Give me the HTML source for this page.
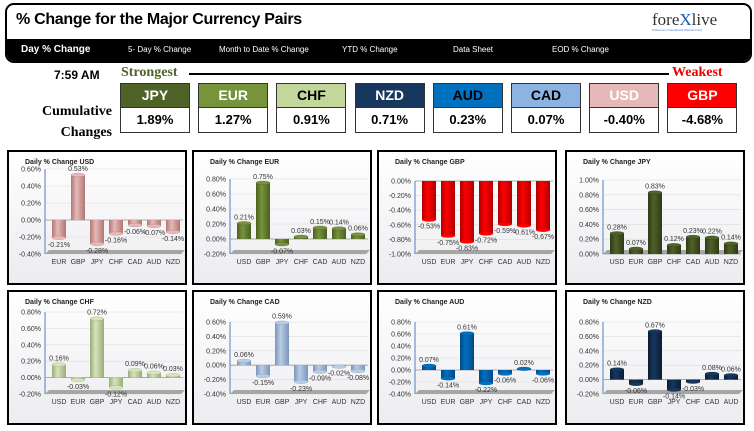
<!DOCTYPE html>
<html><head><meta charset="utf-8"><style>
body{margin:0;width:754px;height:431px;background:#fff;font-family:"Liberation Sans",sans-serif;overflow:hidden;position:relative}
.abs{position:absolute}
#hdr{left:5px;top:3px;width:743px;height:56px;border:2px solid #000;border-radius:9px;background:#fff;overflow:hidden}
#nav{left:0;top:34px;width:743px;height:22px;background:#000}
.nav{position:absolute;top:6px;color:#fff;font-size:8px;font-family:"Liberation Sans Narrow","Liberation Sans",sans-serif}
.box{position:absolute;width:68px;border:1px solid #333}
.bn{height:23px;line-height:23px;text-align:center;font-weight:bold;font-size:14px;font-family:"Liberation Sans Narrow","Liberation Sans",sans-serif;border-bottom:1px solid #333}
.bv{height:24px;line-height:24px;text-align:center;font-weight:bold;font-size:13px;background:#fff;font-family:"Liberation Sans Narrow","Liberation Sans",sans-serif}
</style></head><body>
<div id="hdr" class="abs">
 <div class="abs" style="left:9px;top:6px;font-weight:bold;font-size:16px;font-family:'Liberation Sans Narrow','Liberation Sans',sans-serif;letter-spacing:-0.3px">% Change for the Major Currency Pairs</div>
 <div class="abs" style="left:645px;top:5px;font-family:'Liberation Serif',serif;font-size:17px;color:#333">fore<span style="color:#1a5fb4">X</span>live<div style="font-size:3px;color:#36c;margin-top:-2px">Tomorrow's Conventional Wisdom Today</div></div>
 <div id="nav" class="abs">
  <span class="nav" style="left:14px;top:5px;font-size:10px;font-weight:bold">Day % Change</span>
  <span class="nav" style="left:121px">5- Day % Change</span>
  <span class="nav" style="left:212px">Month to Date % Change</span>
  <span class="nav" style="left:335px">YTD % Change</span>
  <span class="nav" style="left:446px">Data Sheet</span>
  <span class="nav" style="left:545px">EOD % Change</span>
 </div>
</div>
<div class="abs" style="left:54px;top:68px;font-weight:bold;font-size:12px;font-family:'Liberation Sans Narrow','Liberation Sans',sans-serif">7:59 AM</div>
<div class="abs" style="left:121px;top:65px;font-weight:bold;font-size:14px;color:#4f6228;font-family:'Liberation Serif',serif">Strongest</div>
<div class="abs" style="left:189px;top:73px;width:480px;height:2px;background:#000"></div>
<div class="abs" style="left:672px;top:65px;font-weight:bold;font-size:14px;color:#e00;font-family:'Liberation Serif',serif">Weakest</div>
<div class="abs" style="left:38px;top:101px;font-weight:bold;font-size:14px;line-height:21px;text-align:right;width:74px;font-family:'Liberation Serif',serif">Cumulative Changes</div>
<div id="boxes"></div>
<div id="panels"></div>
<script>
const rankNames=["JPY","EUR","CHF","NZD","AUD","CAD","USD","GBP"];
const rankValues=[1.89,1.27,0.91,0.71,0.23,0.07,-0.40,-4.68];
const rankBg=["#4f6228","#77933c","#c3d69b","#17375e","#0070c0","#8db3e2","#e6b9b8","#ff0000"];
const rankFg=["#fff","#fff","#000","#fff","#000","#000","#fff","#fff"];
const bx=document.getElementById('boxes');
rankNames.forEach((n,i)=>{
 const d=document.createElement('div');d.className='box';
 d.style.left=(120+i*78.2)+'px';d.style.top='83px';
 
 
 d.innerHTML='<div class="bn" style="background:'+rankBg[i]+';color:'+rankFg[i]+'">'+n+'</div><div class="bv">'+rankValues[i].toFixed(2)+'%</div>';
 bx.appendChild(d);
});
const panelTitles=["USD","EUR","GBP","JPY","CHF","CAD","AUD","NZD"];
const panelCats=[["EUR","GBP","JPY","CHF","CAD","AUD","NZD"],["USD","GBP","JPY","CHF","CAD","AUD","NZD"],["USD","EUR","JPY","CHF","CAD","AUD","NZD"],["USD","EUR","GBP","CHF","CAD","AUD","NZD"],["USD","EUR","GBP","JPY","CAD","AUD","NZD"],["USD","EUR","GBP","JPY","CHF","AUD","NZD"],["USD","EUR","GBP","JPY","CHF","CAD","NZD"],["USD","EUR","GBP","JPY","CHF","CAD","AUD"]];
const usdVals=[-0.21,0.53,-0.28,-0.16,-0.06,-0.07,-0.14];
const eurVals=[0.21,0.75,-0.07,0.03,0.15,0.14,0.06];
const gbpVals=[-0.53,-0.75,-0.83,-0.72,-0.59,-0.61,-0.67];
const jpyVals=[0.28,0.07,0.83,0.12,0.23,0.22,0.14];
const chfVals=[0.16,-0.03,0.72,-0.12,0.09,0.06,0.03];
const cadVals=[0.06,-0.15,0.59,-0.23,-0.09,-0.02,-0.08];
const audVals=[0.07,-0.14,0.61,-0.22,-0.06,0.02,-0.06];
const nzdVals=[0.14,-0.06,0.67,-0.14,-0.03,0.08,0.06];
const panelVals=[usdVals,eurVals,gbpVals,jpyVals,chfVals,cadVals,audVals,nzdVals];
const panelMax=[0.6,0.8,0,1.0,0.8,0.6,0.8,0.8];
const panelMin=[-0.4,-0.2,-1.0,0,-0.2,-0.4,-0.4,-0.2];
const panelColor=["#e6b9b8","#77933c","#ff0000","#4f6228","#d7e4bd","#b9cde5","#0070c0","#17375e"];
const panelDark=["#b07774","#4a6020","#b00000","#2e3a15","#9aac78","#7a96bb","#004a85","#0a1c33"];
const topOff=[19,29,31,30,22,32,32,32];
const px=[7,192,377,565],py=[150,290],pw=180,ph=135;
let html='<svg xmlns="http://www.w3.org/2000/svg" width="754" height="431" style="position:absolute;left:0;top:0"><defs><linearGradient id="bg" x1="0" y1="0" x2="0" y2="1"><stop offset="0" stop-color="#fff"/><stop offset="1" stop-color="#ececf0"/></linearGradient>';
panelColor.forEach((c,i)=>{html+='<linearGradient id="g'+i+'" x1="0" x2="1"><stop offset="0" stop-color="'+panelDark[i]+'"/><stop offset="0.4" stop-color="'+c+'"/><stop offset="1" stop-color="'+panelDark[i]+'"/></linearGradient>';});
html+='</defs>';
for(let p=0;p<8;p++){
 const X=px[p%4],T=py[Math.floor(p/4)];
 const top=T+topOff[p],bot=T+104;
 const mx=panelMax[p],mn=panelMin[p];
 const y=v=>top+(mx-v)/(mx-mn)*(bot-top);
 const ax=X+38;
 const cx=i=>X+52+i*19;
 html+='<g>';
 html+='<rect x="'+(X+1)+'" y="'+(T+1)+'" width="'+(pw-2)+'" height="'+(ph-2)+'" fill="url(#bg)" stroke="#000" stroke-width="2"/>';
 html+='<text x="'+(X+18)+'" y="'+(T+14)+'" font-size="7" font-weight="bold" fill="#222">Daily % Change '+panelTitles[p]+'</text>';
 const nt=Math.round((mx-mn)/0.2);
 for(let k=0;k<=nt;k++){const v=mx-k*0.2;const yy=y(v);
  html+='<line x1="'+ax+'" x2="'+(X+176)+'" y1="'+yy+'" y2="'+yy+'" stroke="#dcdcdc" stroke-width="0.6"/>';
  html+='<text x="'+(X+34)+'" y="'+(yy+2.5)+'" font-size="7" text-anchor="end" fill="#333">'+(Math.abs(v)<1e-9?'0.00':v.toFixed(2))+'%</text>';}
 html+='<polygon points="'+(ax+4)+','+(bot-4)+' '+(X+178)+','+(bot-4)+' '+(X+174)+','+bot+' '+ax+','+bot+'" fill="#a6a6a6"/>';
 html+='<line x1="'+ax+'" x2="'+ax+'" y1="'+top+'" y2="'+bot+'" stroke="#4f81bd" stroke-width="1"/>';
 html+='<line x1="'+ax+'" x2="'+(X+176)+'" y1="'+y(0)+'" y2="'+y(0)+'" stroke="#999" stroke-width="0.8"/>';
 panelVals[p].forEach((v,i)=>{
  const y0=y(0),yv=y(v),h=Math.abs(yv-y0),yt=Math.min(yv,y0),c=cx(i);
  html+='<rect x="'+(c-7)+'" y="'+yt+'" width="14" height="'+Math.max(h,0.5)+'" fill="url(#g'+p+')"/>';
  html+='<ellipse cx="'+c+'" cy="'+yv+'" rx="7" ry="1.8" fill="'+panelColor[p]+'" stroke="'+panelDark[p]+'" stroke-width="0.3"/>';
  const ly=v>=0?yv-4:yv+9;
  html+='<text x="'+c+'" y="'+ly+'" font-size="7" text-anchor="middle" fill="#333">'+v.toFixed(2)+'%</text>';
  html+='<text x="'+c+'" y="'+(bot+10)+'" font-size="7" text-anchor="middle" fill="#333">'+panelCats[p][i]+'</text>';
 });
 html+='</g>';
}
html+='</svg>';
document.getElementById('panels').innerHTML=html;
</script>
</body></html>
